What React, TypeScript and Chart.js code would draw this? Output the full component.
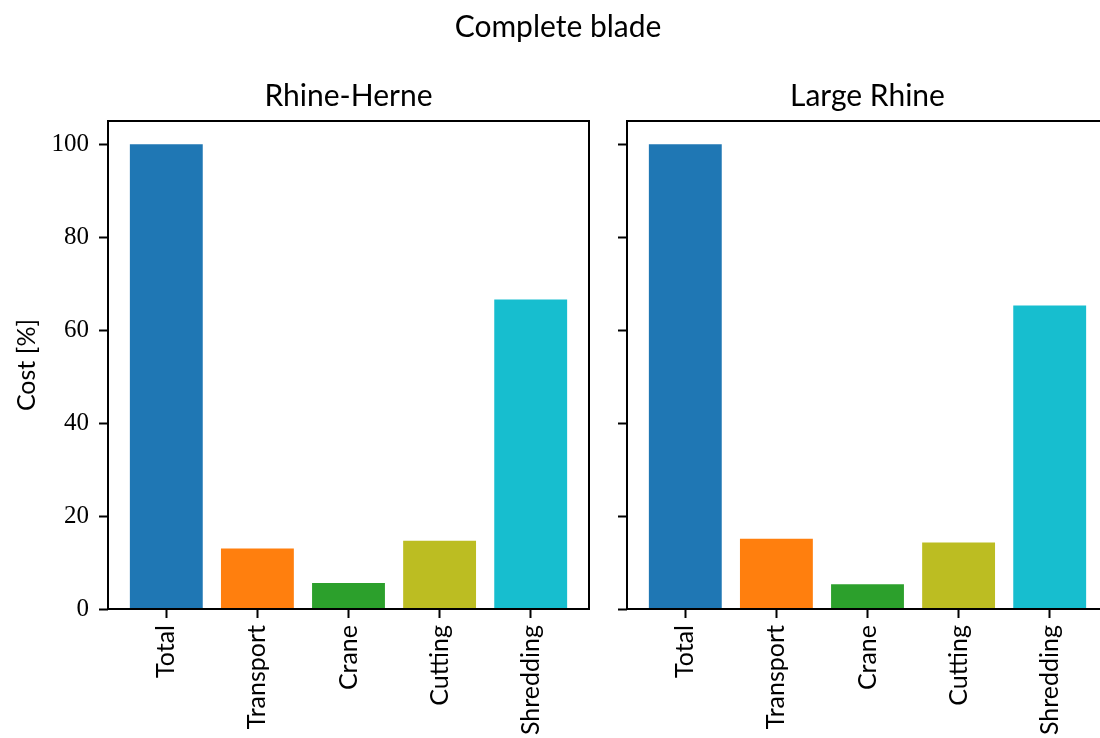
import React, { useEffect, useRef } from 'react';
import { Chart, registerables } from 'chart.js';

Chart.register(...registerables);

// Cost breakdown for dismantling and processing a complete blade, per waterway route.
const categories = ['Total', 'Transport', 'Crane', 'Cutting', 'Shredding'];
const rhineHerneCost = [100, 13.0, 5.6, 14.7, 66.6];
const largeRhineCost = [100, 15.1, 5.3, 14.3, 65.3];
const barColors = ['#1f77b4', '#ff7f0e', '#2ca02c', '#bcbd22', '#17becf'];
const yTickValues = [0, 20, 40, 60, 80, 100];

const SANS = 'Lato, "Open Sans", sans-serif';
const SERIF = '"Liberation Serif", serif';
const FONT_SIZE = 25;
const TITLE_SIZE = 30;

const CANVAS_H = 738;
const PLOT_TOP = 121;
const PLOT_BOTTOM = 609;
const PANEL_TITLE_Y = 96;

// Draws the four axis spines around the plot area, and the panel title centred over it.
const frameAndTitlePlugin = {
  id: 'frameAndTitle',
  afterDatasetsDraw(chart: any) {
    const { ctx, chartArea } = chart;
    ctx.save();
    ctx.strokeStyle = '#000';
    ctx.lineWidth = 2;
    ctx.strokeRect(chartArea.left, chartArea.top, chartArea.right - chartArea.left, chartArea.bottom - chartArea.top);
    ctx.restore();
  },
  afterDraw(chart: any, _args: any, opts: any) {
    const { ctx, chartArea } = chart;
    ctx.save();
    ctx.fillStyle = '#000';
    ctx.font = `${TITLE_SIZE}px ${SANS}`;
    ctx.textAlign = 'center';
    ctx.textBaseline = 'middle';
    ctx.fillText(opts.text, (chartArea.left + chartArea.right) / 2, PANEL_TITLE_Y);
    ctx.restore();
  },
};

type PanelProps = {
  title: string;
  values: number[];
  showYLabels: boolean;
  canvasWidth: number;
  yAxisWidth: number;
  rightPad: number;
  left: number;
};

function Panel({ title, values, showYLabels, canvasWidth, yAxisWidth, rightPad, left }: PanelProps) {
  const ref = useRef<HTMLCanvasElement>(null);

  useEffect(() => {
    if (!ref.current) return;

    const chart = new Chart(ref.current, {
      type: 'bar',
      data: {
        datasets: [
          {
            data: values.map((v, i) => ({ x: i, y: v })),
            backgroundColor: barColors,
            borderWidth: 0,
            barPercentage: 0.8,
            categoryPercentage: 1,
          },
        ],
      },
      options: {
        responsive: false,
        animation: false,
        layout: { padding: { left: 0, right: rightPad, top: PLOT_TOP, bottom: 0 } },
        plugins: {
          legend: { display: false },
          tooltip: { enabled: false },
          title: { display: false },
          frameAndTitle: { text: title },
        } as any,
        scales: {
          x: {
            type: 'linear',
            offset: false,
            min: -0.64,
            max: 4.64,
            afterBuildTicks: (scale: any) => {
              scale.ticks = categories.map((_, i) => ({ value: i }));
            },
            afterFit: (scale: any) => {
              scale.height = CANVAS_H - PLOT_BOTTOM;
            },
            ticks: {
              autoSkip: false,
              minRotation: 90,
              maxRotation: 90,
              padding: 7,
              color: '#000',
              font: { family: SANS, size: FONT_SIZE },
              callback: (v: any) => categories[v as number] ?? '',
            },
            grid: {
              offset: false,
              drawOnChartArea: false,
              drawTicks: true,
              tickLength: 9,
              tickWidth: 2,
              tickColor: '#000',
            },
            border: { display: false },
          },
          y: {
            type: 'linear',
            min: 0,
            max: 105,
            afterBuildTicks: (scale: any) => {
              scale.ticks = yTickValues.map((v) => ({ value: v }));
            },
            afterFit: (scale: any) => {
              scale.width = yAxisWidth;
            },
            ticks: {
              padding: 10,
              color: '#000',
              font: { family: SERIF, size: FONT_SIZE },
              callback: (v: any) => (showYLabels ? String(v) : ''),
            },
            title: {
              display: showYLabels,
              text: 'Cost [%]',
              color: '#000',
              font: { family: SANS, size: FONT_SIZE },
              padding: { top: 12, bottom: 0 },
            },
            grid: { drawOnChartArea: false, drawTicks: true, tickLength: 9, tickWidth: 2, tickColor: '#000' },
            border: { display: false },
          },
        },
      },
      plugins: [frameAndTitlePlugin],
    });
    return () => chart.destroy();
  }, [title, values, showYLabels, canvasWidth, yAxisWidth, rightPad]);

  return (
    <canvas
      ref={ref}
      width={canvasWidth}
      height={CANVAS_H}
      style={{ position: 'absolute', left, top: 0, width: canvasWidth, height: CANVAS_H }}
    />
  );
}

export default function App() {
  return (
    <div
      style={{
        position: 'fixed',
        left: 0,
        top: 0,
        width: 1100,
        height: CANVAS_H,
        overflow: 'hidden',
        background: '#fff',
      }}
    >
      <Panel title="Rhine-Herne" values={rhineHerneCost} showYLabels canvasWidth={600} yAxisWidth={108} rightPad={11} left={0} />
      <Panel title="Large Rhine" values={largeRhineCost} showYLabels={false} canvasWidth={520} yAxisWidth={27} rightPad={12} left={600} />
      <div
        style={{
          position: 'absolute',
          left: 0,
          top: 7,
          width: 1116,
          textAlign: 'center',
          fontFamily: SANS,
          fontSize: TITLE_SIZE,
          lineHeight: '36px',
          color: '#000',
        }}
      >
        Complete blade
      </div>
    </div>
  );
}
